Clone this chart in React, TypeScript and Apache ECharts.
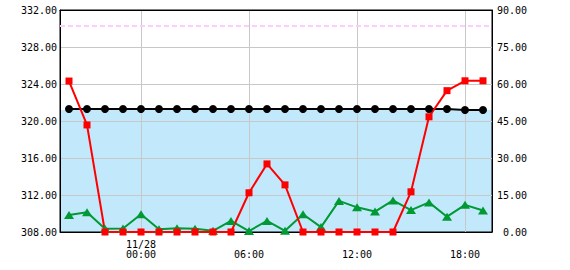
import React, { useEffect, useRef } from "react";
import * as echarts from "echarts";

// Hourly observation times (11/27 20:00 .. 11/28 19:00)
const hours = [
  "11/27 20:00", "11/27 21:00", "11/27 22:00", "11/27 23:00",
  "11/28 00:00", "11/28 01:00", "11/28 02:00", "11/28 03:00",
  "11/28 04:00", "11/28 05:00", "11/28 06:00", "11/28 07:00",
  "11/28 08:00", "11/28 09:00", "11/28 10:00", "11/28 11:00",
  "11/28 12:00", "11/28 13:00", "11/28 14:00", "11/28 15:00",
  "11/28 16:00", "11/28 17:00", "11/28 18:00", "11/28 19:00",
];

// Black line (left axis)
const levelBlack = [
  321.3, 321.3, 321.3, 321.3, 321.3, 321.3, 321.3, 321.3,
  321.3, 321.3, 321.3, 321.3, 321.3, 321.3, 321.3, 321.3,
  321.3, 321.3, 321.3, 321.3, 321.3, 321.3, 321.19, 321.19,
];

// Red line (right axis)
const seriesRed = [
  61.2, 43.4, 0, 0, 0, 0, 0, 0,
  0, 0, 15.9, 27.6, 19.1, 0, 0, 0,
  0, 0, 0, 16.3, 46.7, 57.3, 61.3, 61.3,
];

// Green line (right axis)
const seriesGreen = [
  6.9, 8.0, 1.3, 1.4, 7.2, 1.1, 1.5, 1.3,
  0.5, 4.5, 0.4, 4.5, 0.5, 7.2, 2.0, 12.6,
  10.0, 8.3, 12.8, 8.9, 12.0, 6.2, 11.0, 8.7,
];

// Reference levels (left axis)
const bandTop = 321.2;
const dashedLevel = 330.3;

// Axis ranges
const leftMin = 308;
const leftMax = 332;
const leftInterval = 4;
const rightMin = 0;
const rightMax = 90;
const rightInterval = 15;

// X tick labels
const xTickHours = ["11/28 00:00", "11/28 06:00", "11/28 12:00", "11/28 18:00"];
const xTickTexts = ["11/28\n00:00", "\n06:00", "\n12:00", "\n18:00"];

// Half-hour slot categories so hour points sit at slot centers
const slots: string[] = [];
hours.forEach((h) => {
  slots.push(h + " -30");
  slots.push(h);
});
slots.push(hours[hours.length - 1] + " +30");

const FONT = "DejaVu Sans Mono";

export default function App() {
  const ref = useRef<HTMLDivElement>(null);

  useEffect(() => {
    if (!ref.current) return;
    const chart = echarts.init(ref.current, null, { renderer: "svg" });

    const tickIdx = (i: number) => xTickHours.indexOf(slots[i]);
    const leftCount = (leftMax - leftMin) / leftInterval + 1;
    const splitColors: string[] = [];
    for (let i = 0; i < leftCount; i++) {
      splitColors.push(i === 0 || i === leftCount - 1 ? "rgba(0,0,0,0)" : "#c8c8c8");
    }
    const toPts = (arr: number[]) => arr.map((v, i) => [slots.indexOf(hours[i]), v]);

    chart.setOption({
      animation: false,
      grid: {
        left: 60,
        top: 10,
        width: 432,
        height: 222,
        show: true,
        borderColor: "#000",
        borderWidth: 1,
        backgroundColor: "rgba(0,0,0,0)",
      },
      xAxis: [
        {
          type: "category",
          data: slots,
          boundaryGap: false,
          position: "bottom",
          axisLine: { onZero: false, lineStyle: { color: "#000", width: 1 } },
          axisTick: { show: false },
          axisLabel: {
            interval: (i: number) => tickIdx(i) >= 0,
            formatter: (_v: string, i: number) => {
              const k = tickIdx(i);
              return k >= 0 ? xTickTexts[k] : "";
            },
            margin: 7,
            color: "#000",
            fontFamily: FONT,
            fontSize: 10,
            lineHeight: 10,
          },
          splitLine: {
            show: true,
            interval: (i: number) => tickIdx(i) >= 0,
            lineStyle: { color: "#c8c8c8", width: 1 },
          },
        },
        {
          type: "category",
          data: slots,
          boundaryGap: false,
          position: "top",
          axisLine: { onZero: false, lineStyle: { color: "#000", width: 1 } },
          axisTick: { show: false },
          axisLabel: { show: false },
          splitLine: { show: false },
        },
      ],
      yAxis: [
        {
          type: "value",
          min: leftMin,
          max: leftMax,
          interval: leftInterval,
          position: "left",
          axisLine: { show: true, onZero: false, lineStyle: { color: "#000", width: 1 } },
          axisTick: { show: false },
          axisLabel: {
            formatter: (v: number) => v.toFixed(2),
            margin: 3,
            color: "#000",
            fontFamily: FONT,
            fontSize: 10,
          },
          splitLine: { show: true, lineStyle: { color: splitColors, width: 1 } },
        },
        {
          type: "value",
          min: rightMin,
          max: rightMax,
          interval: rightInterval,
          position: "right",
          axisLine: { show: true, onZero: false, lineStyle: { color: "#000", width: 1 } },
          axisTick: { show: false },
          axisLabel: {
            formatter: (v: number) => v.toFixed(2),
            margin: 35,
            align: "right",
            color: "#000",
            fontFamily: FONT,
            fontSize: 10,
          },
          splitLine: { show: false },
        },
      ],
      series: [
        {
          name: "band",
          type: "line",
          xAxisIndex: 0,
          yAxisIndex: 0,
          z: -1,
          silent: true,
          symbol: "none",
          data: [
            [0, bandTop],
            [slots.length - 1, bandTop],
          ],
          lineStyle: { width: 0, opacity: 0 },
          areaStyle: { color: "#c2e8fc", opacity: 1 },
          markLine: {
            silent: true,
            symbol: "none",
            label: { show: false },
            lineStyle: { color: "#ffccff", width: 2, type: [5, 3] },
            data: [{ yAxis: dashedLevel }],
          },
        },
        {
          name: "black",
          type: "line",
          xAxisIndex: 0,
          yAxisIndex: 0,
          data: toPts(levelBlack),
          showAllSymbol: true,
          symbol: "circle",
          symbolSize: 8,
          itemStyle: { color: "#000" },
          lineStyle: { color: "#000", width: 2 },
        },
        {
          name: "green",
          type: "line",
          xAxisIndex: 0,
          yAxisIndex: 1,
          data: toPts(seriesGreen),
          showAllSymbol: true,
          symbol: "triangle",
          symbolSize: [10, 8],
          itemStyle: { color: "#009933" },
          lineStyle: { color: "#009933", width: 2 },
        },
        {
          name: "red",
          type: "line",
          xAxisIndex: 0,
          yAxisIndex: 1,
          data: toPts(seriesRed),
          showAllSymbol: true,
          symbol: "rect",
          symbolSize: 7,
          itemStyle: { color: "#ff0000" },
          lineStyle: { color: "#ff0000", width: 2 },
        },
      ],
    });

    return () => chart.dispose();
  }, []);

  return (
    <div
      ref={ref}
      style={{ position: "fixed", left: 0, top: 0, width: 570, height: 270, background: "#fff" }}
    />
  );
}
